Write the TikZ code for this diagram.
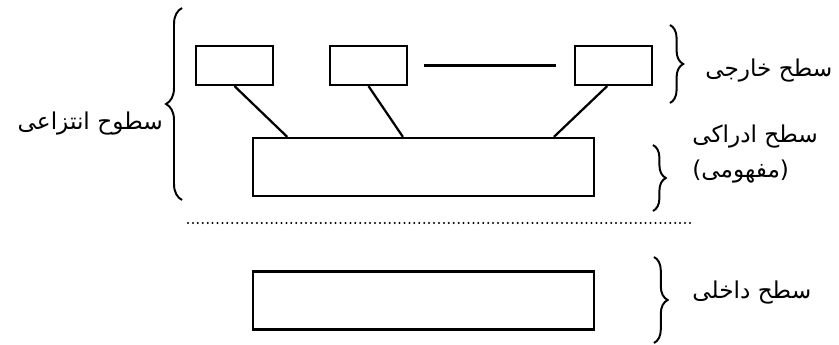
\documentclass[tikz,border=0pt]{standalone}
\usepackage{fontspec}
\usetikzlibrary{calc,decorations.pathreplacing}
\newfontfamily\farsi[Script=Arabic]{DejaVu Sans}
\TeXXeTstate=1
\newcommand{\fa}[1]{\beginR #1\endR}

\begin{document}
\begin{tikzpicture}[x=0.25mm, y=-0.25mm,
   unit/.style={draw, line width=1.6pt, minimum width=19.25mm, minimum height=9.75mm, inner sep=0pt},
   layer/.style={draw, line width=1.6pt, minimum width=85.25mm, minimum height=14.5mm, inner sep=0pt},
   link/.style={line width=1.6pt},
   dots/.style={line width=1.6pt, line cap=round, dash pattern=on 0pt off 3.5pt},
   curly/.style={line width=1.4pt, decorate, decoration={brace, amplitude=#1}},
   caption/.style={inner sep=0pt, font=\fontsize{16.5}{19}\farsi}]
\useasboundingbox (0,0) rectangle (839,345);
% boxes
\node[unit] (ext1) at (234.5,65.5) {};
\node[unit] (ext2) at (368.5,65.5) {};
\node[unit] (ext3) at (613.5,65.5) {};
\node[layer] (percept) at (423.5,167) {};
\node[layer] (inner) at (423.5,300.5) {};
% connectors
\draw[link] (ext1.south) -- ($(percept.north west)!0.103!(percept.north east)$);
\draw[link] (ext2.south) -- ($(percept.north west)!0.44!(percept.north east)$);
\draw[link] ($(ext3.south west)!0.42!(ext3.south east)$) -- ($(percept.north west)!0.88!(percept.north east)$);
\draw[link, shorten <=4mm, shorten >=4.5mm] (ext2.east) -- (ext3.west);
% separator
\coordinate (sepL) at (188,223);
\coordinate (sepR) at (690,223);
\draw[dots] (sepL) -- (sepR);
% braces
\coordinate (allTop) at (182,8);
\coordinate (allBot) at (182,200);
\coordinate (outTop) at (670,25);
\coordinate (outBot) at (670,103);
\coordinate (perTop) at (653,145);
\coordinate (perBot) at (653,211);
\coordinate (innTop) at (654,257);
\coordinate (innBot) at (654,343);
\draw[curly=4mm] (allBot) -- (allTop);
\draw[curly=3.3mm] (outTop) -- (outBot);
\draw[curly=3.2mm] (perTop) -- (perBot);
\draw[curly=3.4mm] (innTop) -- (innBot);
% labels
\node[caption, anchor=east] (abstract) at (163,124) {\fa{سطوح انتزاعی}};
\node[caption, anchor=west] (outerLbl) at (705,71) {\fa{سطح خارجی}};
\node[caption, anchor=west] (perceptLbl) at (692,136.5) {\fa{سطح ادراکی}};
\node[caption, anchor=west] (conceptLbl) at (692,171.5) {\fa{(مفهومی)}};
\node[caption, anchor=west] (innerLbl) at (692,293) {\fa{سطح داخلی}};
\end{tikzpicture}
\end{document}
